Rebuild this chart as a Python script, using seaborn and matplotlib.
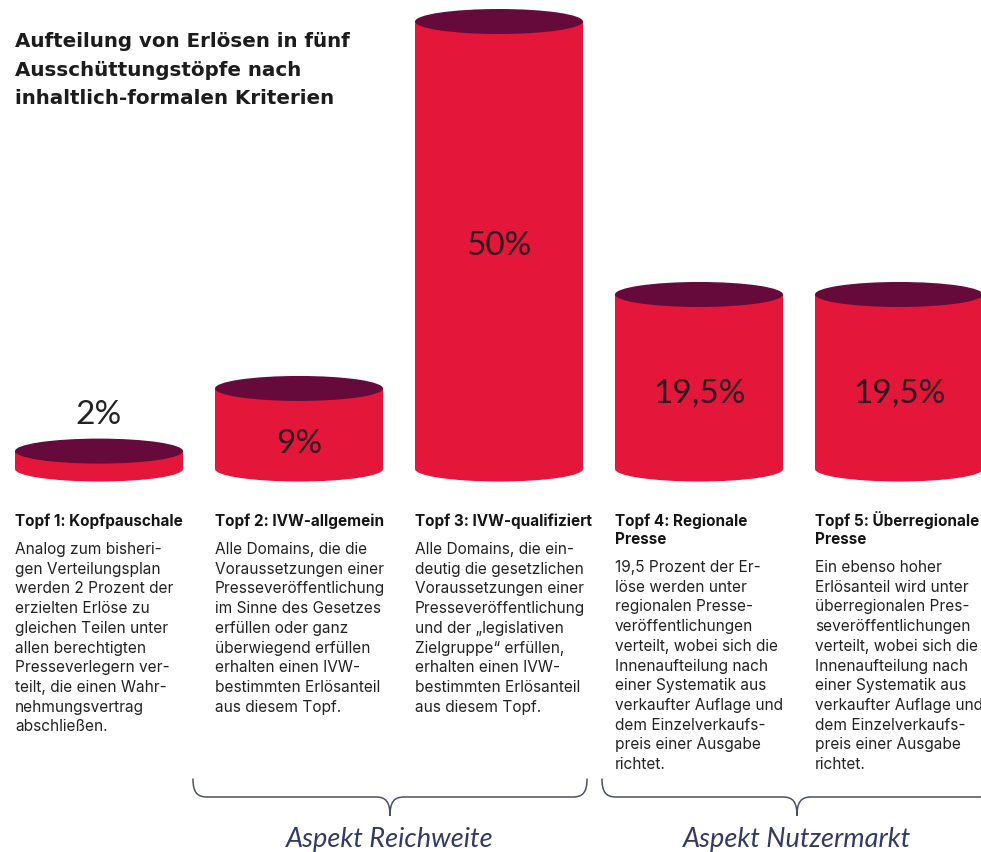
import matplotlib
matplotlib.use("Agg")
import matplotlib.pyplot as plt
from matplotlib.patches import Ellipse, PathPatch
from matplotlib.path import Path
import seaborn as sns
import pandas as pd

# ---------------- data ----------------
toepfe = ["Topf 1", "Topf 2", "Topf 3", "Topf 4", "Topf 5"]
anteile = [2, 9, 50, 19.5, 19.5]
headings = [
    ["Topf 1: Kopfpauschale"],
    ["Topf 2: IVW-allgemein"],
    ["Topf 3: IVW-qualifiziert"],
    ["Topf 4: Regionale", "Presse"],
    ["Topf 5: Überregionale", "Presse"],
]
bodies = [
    ["Analog zum bisheri-", "gen Verteilungsplan", "werden 2 Prozent der", "erzielten Erlöse zu",
     "gleichen Teilen unter", "allen berechtigten", "Presseverlegern ver-", "teilt, die einen Wahr-",
     "nehmungsvertrag", "abschließen."],
    ["Alle Domains, die die", "Voraussetzungen einer", "Presseveröffentlichung", "im Sinne des Gesetzes",
     "erfüllen oder ganz", "überwiegend erfüllen", "erhalten einen IVW-", "bestimmten Erlösanteil",
     "aus diesem Topf."],
    ["Alle Domains, die ein-", "deutig die gesetzlichen", "Voraussetzungen einer", "Presseveröffentlichung",
     "und der „legislativen", "Zielgruppe“ erfüllen,", "erhalten einen IVW-", "bestimmten Erlösanteil",
     "aus diesem Topf."],
    ["19,5 Prozent der Er-", "löse werden unter", "regionalen Presse-", "veröffentlichungen",
     "verteilt, wobei sich die", "Innenaufteilung nach", "einer Systematik aus", "verkaufter Auflage und",
     "dem Einzelverkaufs-", "preis einer Ausgabe", "richtet."],
    ["Ein ebenso hoher", "Erlösanteil wird unter", "überregionalen Pres-", "severöffentlichungen",
     "verteilt, wobei sich die", "Innenaufteilung nach", "einer Systematik aus", "verkaufter Auflage und",
     "dem Einzelverkaufs-", "preis einer Ausgabe", "richtet."],
]
title_lines = ["Aufteilung von Erlösen in fünf", "Ausschüttungstöpfe nach", "inhaltlich-formalen Kriterien"]
aspekte = ["Aspekt Reichweite", "Aspekt Nutzermarkt"]

RED = "#E4163A"
DARK = "#650A3B"
TXT = "#222222"
NAVY = "#333a62"

sns.set_style("white")
plt.rcParams["font.family"] = ["Inter", "DejaVu Sans"]

W, H = 981, 853
fig = plt.figure(figsize=(W / 100, H / 100), dpi=100)
fig.patch.set_facecolor("white")

# main axes: categorical x, percent y
PX_PER_UNIT = 8.95
BASE_PX = 470          # baseline (pixel from top)
CAT_SPACING = 200
FIRST_CENTER = 99
ax = fig.add_axes([0, 0, 1, 1])
df = pd.DataFrame({"topf": toepfe, "anteil": anteile})
sns.barplot(data=df, x="topf", y="anteil", order=toepfe, color=RED, saturation=1,
            width=0.84, ax=ax, linewidth=0, zorder=2)
ax.set_xlim(-FIRST_CENTER / CAT_SPACING, (W - FIRST_CENTER) / CAT_SPACING)
ax.set_ylim(-(H - BASE_PX) / PX_PER_UNIT, BASE_PX / PX_PER_UNIT)
ax.axis("off")

ell_h = 25 / PX_PER_UNIT
for patch, v in zip(ax.patches, anteile):
    cx = patch.get_x() + patch.get_width() / 2
    w = patch.get_width()
    h = patch.get_height()
    ax.add_patch(Ellipse((cx, 0), w, ell_h, facecolor=RED, edgecolor="none", zorder=1))
    ax.add_patch(Ellipse((cx, h), w, ell_h, facecolor=DARK, edgecolor="none", zorder=3))
    label = f"{v:g}".replace(".", ",") + "%"
    if h >= 5:
        ax.text(cx, h * 0.54 - 2, label, ha="center", va="center", fontsize=24,
                family=["Lato", "DejaVu Sans"], color="#2a1520", zorder=4)
    else:
        ax.text(cx, h + 4.2, label, ha="center", va="center", fontsize=24,
                family=["Lato", "DejaVu Sans"], color=TXT, zorder=4)

# overlay axes in pixel coords for text blocks & braces
ov = fig.add_axes([0, 0, 1, 1])
ov.set_xlim(0, W)
ov.set_ylim(H, 0)
ov.axis("off")
ov.patch.set_alpha(0)

for i, line in enumerate(title_lines):
    ov.text(15, 47 + i * 28.5, line, fontsize=14.3, fontweight="bold", color="#1c1c1c",
            family=["DejaVu Sans"], va="baseline", ha="left")

for i, (hd, body) in enumerate(zip(headings, bodies)):
    x0 = 15 + i * 200
    y = 526
    for hl in hd:
        ov.text(x0, y, hl, fontsize=11, fontweight="bold", color="#151515", va="baseline", ha="left")
        y += 18
    y += 10
    for bl in body:
        ov.text(x0, y, bl, fontsize=11.1, color=TXT, va="baseline", ha="left")
        y += 19.7


def brace(x0, x1, y_top=780, y_mid=798, y_tip=817, r=14):
    xm = (x0 + x1) / 2
    verts = [
        (x0, y_top), (x0, y_mid - 5), (x0 + 4, y_mid), (x0 + r, y_mid),
        (xm - r, y_mid),
        (xm - 4, y_mid), (xm, y_mid + 5), (xm, y_tip),
        (xm, y_mid + 5), (xm + 4, y_mid), (xm + r, y_mid),
        (x1 - r, y_mid),
        (x1 - 4, y_mid), (x1, y_mid - 5), (x1, y_top),
    ]
    codes = [Path.MOVETO, Path.CURVE4, Path.CURVE4, Path.CURVE4,
             Path.LINETO,
             Path.CURVE4, Path.CURVE4, Path.CURVE4,
             Path.CURVE4, Path.CURVE4, Path.CURVE4,
             Path.LINETO,
             Path.CURVE4, Path.CURVE4, Path.CURVE4]
    ov.add_patch(PathPatch(Path(verts, codes), facecolor="none", edgecolor="#4a4f6a",
                           linewidth=1.1, capstyle="round"))
    return xm


for (bx0, bx1), name in zip([(193, 587), (602, 992)], aspekte):
    xm = brace(bx0, bx1)
    ov.text(xm, 847, name, fontsize=19.5, fontstyle="italic", color=NAVY,
            family=["Lato", "DejaVu Sans"], ha="center", va="baseline")

fig.savefig("out.png", dpi=100, facecolor="white")
